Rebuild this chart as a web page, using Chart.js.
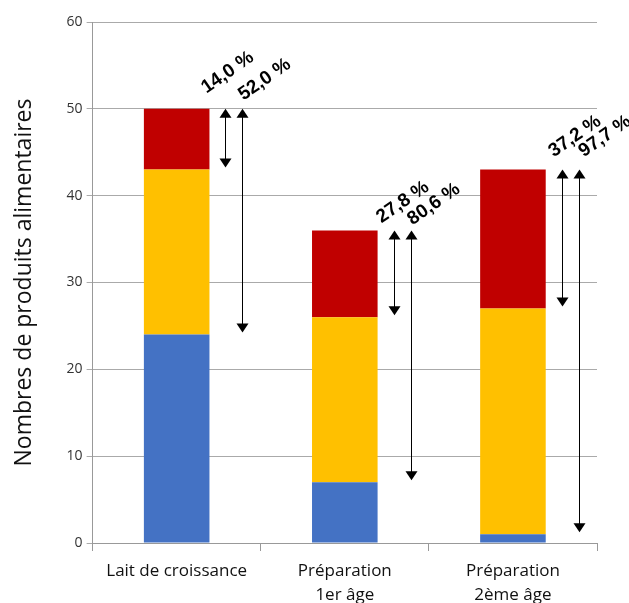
<!DOCTYPE html>
<html>
<head>
<meta charset="utf-8">
<script src="https://cdn.jsdelivr.net/npm/chart.js@4"></script>
<style>
  body { margin: 0; background: #fff; }
</style>
</head>
<body>
<canvas id="chart" width="629" height="603"></canvas>
<script>
var categories = [["Lait de croissance"], ["Préparation", "1er âge"], ["Préparation", "2ème âge"]];
var blueValues = [24, 7, 1];
var yellowValues = [19, 19, 26];
var redValues = [7, 10, 16];
var yTicks = [0, 10, 20, 30, 40, 50, 60];

function pct(v) {
  return v.toFixed(1).replace(".", ",") + " %";
}

// label nudges per bar, in pixels from the arrow top
var labelOffsets = [
  [[-19, -15], [1, -8]],
  [[-12, -7], [2, -5]],
  [[-8, -12], [5, -12]]
];

// arrows + rotated percentage labels next to each bar
var arrowPlugin = {
  id: "arrows",
  afterDatasetsDraw: function (chart) {
    var ctx = chart.ctx;
    var y = chart.scales.y;
    var meta = chart.getDatasetMeta(2);
    ctx.save();
    ctx.strokeStyle = "#000";
    ctx.fillStyle = "#000";
    ctx.lineWidth = 1;
    for (var i = 0; i < categories.length; i++) {
      var bar = meta.data[i];
      var right = bar.x + bar.width / 2;
      var total = blueValues[i] + yellowValues[i] + redValues[i];
      var top = y.getPixelForValue(total);
      var ends = [total - redValues[i], blueValues[i]];
      var xs = [right + 16, right + 33];
      for (var k = 0; k < 2; k++) {
        var x = Math.round(xs[k]) + 0.5;
        var bot = y.getPixelForValue(ends[k]) - 2;
        ctx.beginPath();
        ctx.moveTo(x, top + 8);
        ctx.lineTo(x, bot - 8);
        ctx.stroke();
        ctx.beginPath();
        ctx.moveTo(x, top);
        ctx.lineTo(x - 6, top + 9);
        ctx.lineTo(x + 6, top + 9);
        ctx.closePath();
        ctx.fill();
        ctx.beginPath();
        ctx.moveTo(x, bot);
        ctx.lineTo(x - 6, bot - 9);
        ctx.lineTo(x + 6, bot - 9);
        ctx.closePath();
        ctx.fill();
      }
      var texts = [pct(redValues[i] / total * 100), pct((total - blueValues[i]) / total * 100)];
      ctx.font = "bold 19px 'Liberation Sans', Arial, sans-serif";
      ctx.textAlign = "left";
      ctx.textBaseline = "alphabetic";
      for (var k = 0; k < 2; k++) {
        var o = labelOffsets[i][k];
        ctx.save();
        ctx.translate(xs[k] + o[0], top + o[1]);
        ctx.rotate(-35 * Math.PI / 180);
        ctx.fillText(texts[k], 0, 0);
        ctx.restore();
      }
    }
    ctx.restore();
  }
};

var ctx = document.getElementById("chart").getContext("2d");
var chart = new Chart(ctx, {
  type: "bar",
  data: {
    labels: categories,
    datasets: [
      { data: blueValues, backgroundColor: "#4472C4" },
      { data: yellowValues, backgroundColor: "#FFC000" },
      { data: redValues, backgroundColor: "#C00000" }
    ]
  },
  options: {
    responsive: false,
    animation: false,
    categoryPercentage: 1,
    barPercentage: 0.39,
    layout: { padding: { top: 22, right: 32, left: 11, bottom: 0 } },
    plugins: { legend: { display: false }, tooltip: { enabled: false } },
    scales: {
      x: {
        stacked: true,
        afterFit: function (s) { s.height = 60; },
        grid: { offset: true, drawOnChartArea: false, tickLength: 8, color: "#999" },
        border: { color: "#999" },
        ticks: { color: "#111", font: { family: "'Open Sans', sans-serif", size: 17, lineHeight: 1.4 }, padding: 8 },
      },
      y: {
        stacked: true,
        min: 0,
        max: 60,
        afterBuildTicks: function (s) { s.ticks = yTicks.map(function (v) { return { value: v }; }); },
        grid: { color: "#aaa", tickLength: 6 },
        border: { color: "#999" },
        ticks: { color: "#333", font: { family: "'Open Sans', sans-serif", size: 14 }, padding: 4 },
        title: {
          display: true,
          text: "Nombres de produits alimentaires",
          color: "#111",
          font: { family: "'Open Sans', sans-serif", size: 23 },
          padding: { top: 0, bottom: 24 }
        }
      }
    }
  },
  plugins: [arrowPlugin]
});
</script>
</body>
</html>
